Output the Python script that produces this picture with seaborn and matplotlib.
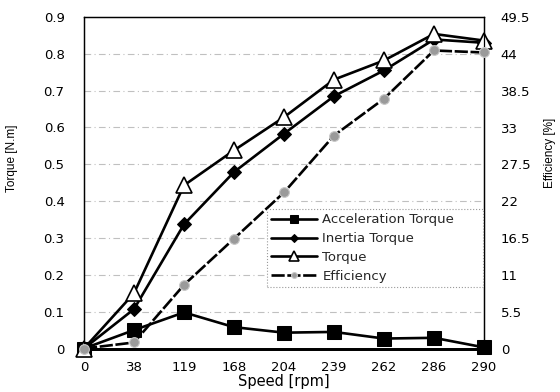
import matplotlib
matplotlib.use("Agg")
import matplotlib.pyplot as plt
import seaborn as sns
import numpy as np
import pandas as pd

speed_labels = ["0", "38", "119", "168", "204", "239", "262", "286", "290"]
accel_torque = [0, 0.050, 0.098, 0.058, 0.043, 0.045, 0.027, 0.029, 0.003]
inertia_torque = [0, 0.107, 0.337, 0.479, 0.583, 0.685, 0.755, 0.839, 0.830]
torque = [0, 0.150, 0.443, 0.538, 0.628, 0.730, 0.782, 0.854, 0.836]
efficiency = [0, 0.9, 9.5, 16.4, 23.3, 31.8, 37.3, 44.5, 44.2]
torque_ticks = [0, 0.1, 0.2, 0.3, 0.4, 0.5, 0.6, 0.7, 0.8, 0.9]
torque_tick_labels = ["0", "0.1", "0.2", "0.3", "0.4", "0.5", "0.6", "0.7", "0.8", "0.9"]
eff_ticks = [0, 5.5, 11, 16.5, 22, 27.5, 33, 38.5, 44, 49.5]
eff_tick_labels = ["0", "5.5", "11", "16.5", "22", "27.5", "33", "38.5", "44", "49.5"]

sns.set_theme(style="white")
plt.rcParams['font.family'] = ['DejaVu Sans']

df = pd.DataFrame({
    "pos": np.arange(len(speed_labels)),
    "Acceleration Torque": accel_torque,
    "Inertia Torque": inertia_torque,
    "Torque": torque,
    "Efficiency": efficiency,
})

fig = plt.figure(figsize=(5.6, 3.92), dpi=100)
ax = fig.add_axes([84/560, 1-348.5/392, 400/560, (348.5-17)/392])
ax2 = ax.twinx()

# grid
for t in torque_ticks[1:-1]:
    ax.axhline(t, color="#c0c0c0", lw=0.8, ls=(0, (6, 3, 1, 3)), zorder=0)

lw = 1.9
sns.lineplot(data=df, x="pos", y="Acceleration Torque", ax=ax, sort=False,
             color="black", lw=lw, marker="s", markersize=10,
             markerfacecolor="black", markeredgecolor="black",
             label="Acceleration Torque", legend=False, clip_on=False, zorder=3)
sns.lineplot(data=df, x="pos", y="Inertia Torque", ax=ax, sort=False,
             color="black", lw=lw, marker="D", markersize=7,
             markerfacecolor="black", markeredgecolor="black",
             label="Inertia Torque", legend=False, clip_on=False, zorder=3)
sns.lineplot(data=df, x="pos", y="Torque", ax=ax, sort=False,
             color="black", lw=lw, marker="^", markersize=11,
             markerfacecolor="white", markeredgecolor="black", markeredgewidth=1.2,
             label="Torque", legend=False, clip_on=False, zorder=4)
sns.lineplot(data=df, x="pos", y="Efficiency", ax=ax2, sort=False,
             color="black", lw=lw, marker="o", markersize=7,
             markerfacecolor="#9a9a9a", markeredgecolor="#c8c8c8", markeredgewidth=0.8,
             label="Efficiency", legend=False, clip_on=False, zorder=3,
             dashes=False)
ax2.lines[-1].set_linestyle((0, (5, 1.0)))

ax.set_xlim(0, len(speed_labels) - 1)
ax.set_ylim(0, 0.9)
ax2.set_ylim(0, 49.5)

ax.set_xticks(df["pos"])
ax.set_xticklabels(speed_labels)
ax.set_yticks(torque_ticks)
ax.set_yticklabels(torque_tick_labels)
ax2.set_yticks(eff_ticks)
ax2.set_yticklabels(eff_tick_labels)

ax.tick_params(axis="x", length=0, pad=9, labelsize=9.5, colors="black")
ax.tick_params(axis="y", length=0, pad=14, labelsize=9.5, colors="black")
ax2.tick_params(axis="y", length=0, pad=12, labelsize=9.5, colors="black")

ax.set_xlabel("Speed [rpm]", fontsize=10.5, color="black", labelpad=0)
ax.set_ylabel("Torque [N.m]", fontsize=8.5, color="black", family="Liberation Sans",
              va="center")
ax.yaxis.set_label_coords(-0.18, 0.574)
ax2.set_ylabel("Efficiency [%]", fontsize=8.5, color="black", family="Liberation Sans",
               rotation=90, va="center")
ax2.yaxis.set_label_coords(1.165, 0.59)

for a in (ax, ax2):
    for s in ("left", "top", "right"):
        a.spines[s].set_color("black")
        a.spines[s].set_linewidth(0.9)
    a.spines["bottom"].set_color("black")
    a.spines["bottom"].set_linewidth(2)

h1, l1 = ax.get_legend_handles_labels()
h2, l2 = ax2.get_legend_handles_labels()
leg = ax2.legend(h1 + h2, l1 + l2, loc="upper left",
                 bbox_to_anchor=(0.4575, 0.172, 0.54, 0.248), mode="expand",
                 fontsize=9.5, frameon=True, fancybox=False, framealpha=1,
                 handlelength=3.5, handletextpad=0.4, labelspacing=0.45,
                 borderpad=0.3, borderaxespad=0, markerscale=0.6)
fr = leg.get_frame()
fr.set_edgecolor("#999999")
fr.set_linestyle(":")
fr.set_linewidth(0.8)
fr.set_facecolor("white")

fig.savefig("out.png", dpi=100)
